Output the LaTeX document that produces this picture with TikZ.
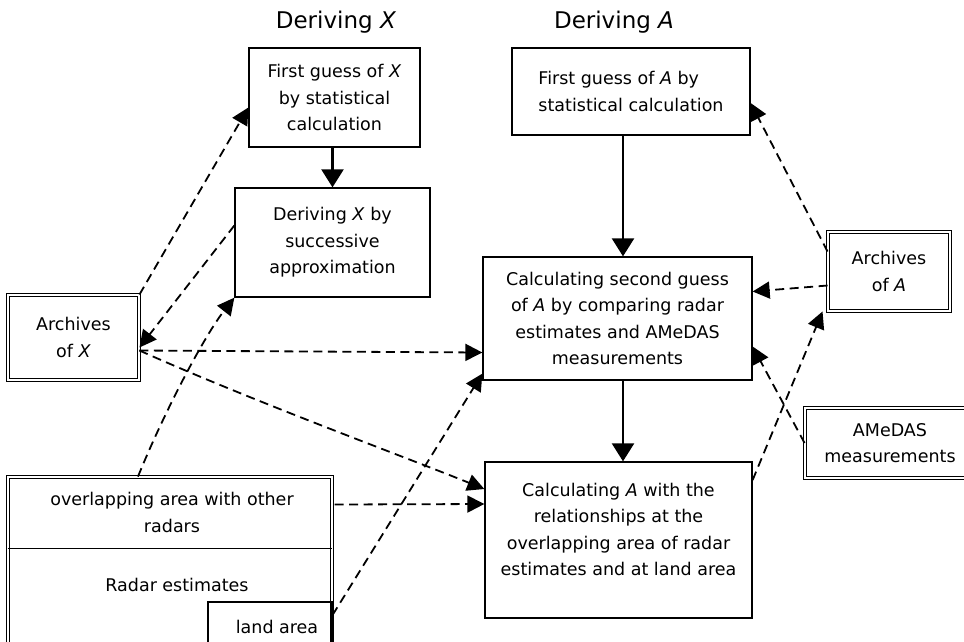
\documentclass[tikz,border=0pt]{standalone}
\usepackage{fontspec}
\setmainfont{DejaVu Sans}
\usetikzlibrary{arrows.meta}

\begin{document}
\begin{tikzpicture}[x=1pt,y=-1pt,
    box/.style={draw,line width=1.3pt,align=center,inner sep=0pt,font=\fontsize{17.5}{26.5}\selectfont},
    dbox/.style={box,double,double distance=1.6pt,line width=0.9pt},
    flow/.style={line width=2.4pt,-{Triangle[length=18pt,width=22pt]}},
    feed/.style={line width=1.8pt,dash pattern=on 9pt off 5.5pt,-{Triangle[length=17pt,width=17pt]}}]
    \useasboundingbox (0,0) rectangle (964,641);
    \clip (0,0) rectangle (964,641);
    \node[font=\fontsize{23}{26}\selectfont] (tx) at (336,22){Deriving \textit{X}};
    \node[font=\fontsize{23}{26}\selectfont] (ta) at (614,22){Deriving \textit{A}};
    \node[box,minimum width=171pt,minimum height=99pt] (fx) at (334.5,97.5){First guess of \textit{X}\\by statistical\\calculation};
    \node[box,minimum width=195pt,minimum height=109pt] (dx) at (332.5,242.5){Deriving \textit{X} by\\successive\\approximation};
    \node[box,align=left,minimum width=238pt,minimum height=87pt] (fa) at (631,91.5){First guess of \textit{A} by\\statistical calculation};
    \node[box,minimum width=269pt,minimum height=123pt] (cs) at (617.5,318.5){Calculating second guess\\of \textit{A} by comparing radar\\estimates and AMeDAS\\measurements};
    \node[box,minimum width=267pt,minimum height=156pt] (ca) at (618.5,540){Calculating \textit{A} with the\\relationships at the\\overlapping area of radar\\estimates and at land area\\[-5pt]};
    \node[dbox,minimum width=131pt,minimum height=85pt] (arx) at (73.5,337.5){Archives\\of \textit{X}};
    \node[dbox,minimum width=122pt,minimum height=79pt] (ara) at (889,271.5){Archives\\of \textit{A}};
    \node[dbox,minimum width=170pt,minimum height=70pt] (ame) at (890,443){AMeDAS\\measurements};
    % radar estimates block
    \node[dbox,minimum width=324pt,minimum height=183pt] (radar) at (170,568.5){};
    \node[box,draw=none,minimum width=324pt,minimum height=71pt] (ov) at (172,512.5){overlapping area with other\\radars};
    \draw[line width=1.3pt] (radar.west |- ov.south) -- (radar.east |- ov.south);
    \node[box,draw=none] (re) at (177,585){Radar estimates};
    \node[box,line width=1.1pt,minimum width=124pt,minimum height=58pt] (land) at (270,631){};
    \node[box,draw=none] (lt) at (277,627){land area};
    % solid arrows
    \draw[flow] (dx.north |- fx.south) -- (dx.north);
    \draw[flow] ([xshift=-8pt]fa.south) -- ([xshift=5.5pt]cs.north);
    \draw[flow] ([xshift=5.5pt]cs.south) -- ([xshift=4.5pt]ca.north);
    % dashed arrows
    \draw[feed] (arx.north east) -- ([yshift=-10pt]fx.west);
    \draw[feed] ([yshift=17pt]dx.west) -- ([yshift=-10pt]arx.east);
    \draw[feed] ([xshift=-32pt]radar.north) .. controls (165,410) and (205,335) .. (dx.south west);
    \draw[feed] ([yshift=-13pt]arx.east) -- ([yshift=-34pt]cs.west);
    \draw[feed] ([yshift=-13pt]arx.east) .. controls (250,400) and (400,455) .. ([yshift=51pt]ca.west);
    \draw[feed] ([yshift=8pt]ov.east) -- ([yshift=36pt]ca.west);
    \draw[feed] ([yshift=16pt]land.east) -- ([yshift=7pt]cs.south west);
    \draw[feed] ([yshift=-14pt]ara.west) -- ([yshift=27pt]cs.east);
    \draw[feed] ([yshift=-20pt]ara.north west) -- ([yshift=-11.5pt]fa.east);
    \draw[feed] (ame.west) -- ([yshift=-28pt]cs.east);
    \draw[feed] ([yshift=60pt]ca.east) -- ([xshift=-5pt]ara.south west);
\end{tikzpicture}
\end{document}
